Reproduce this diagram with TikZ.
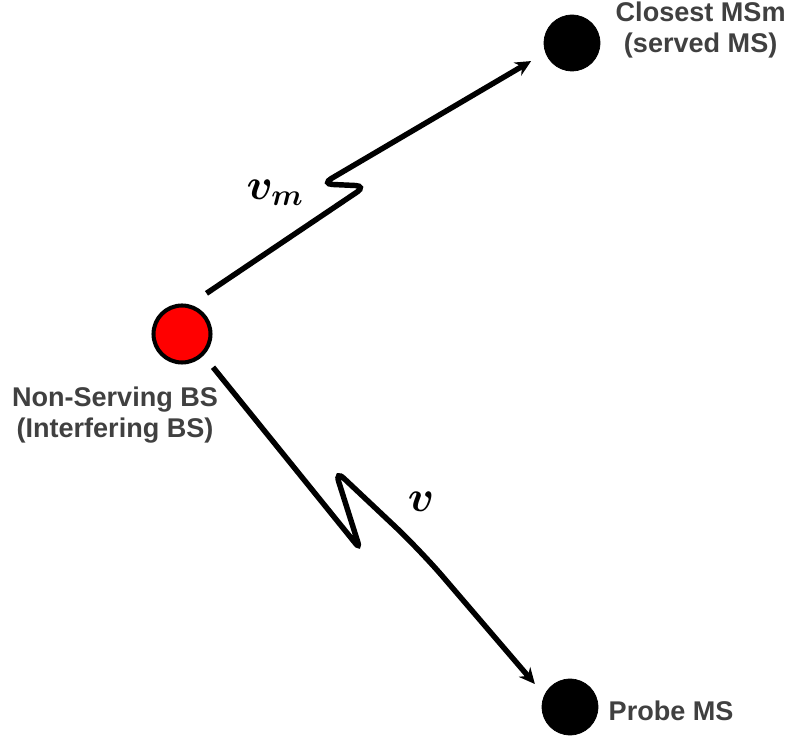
\documentclass[tikz,border=0pt]{standalone}
\usepackage{bm}
\usepackage{fontspec}
\newfontfamily\labelfont{Liberation Sans}
\usetikzlibrary{positioning,arrows.meta}
\definecolor{labelgray}{RGB}{64,64,64}

\begin{document}
\begin{tikzpicture}[
    station/.style={circle,draw=black,minimum size=1.12cm,inner sep=0pt},
    tag/.style={font=\labelfont\bfseries\fontsize{15.4}{17.6}\selectfont,text=labelgray,align=center,inner sep=0pt},
    link/.style={line width=3.1pt,rounded corners=6pt,-{Stealth[length=9pt,width=8.5pt]}},
    sym/.style={inner sep=0pt}]

    \useasboundingbox (0,0) rectangle (15.84,14.8);

    % stations
    \node[station,fill=red,line width=2.3pt,minimum size=1.14cm] (bs) at (3.64,8.12) {};
    \node[station,fill=black] (cms) at (11.44,13.94) {};
    \node[station,fill=black] (pms) at (11.40,0.66) {};

    % labels
    \node[tag,below=0.45cm of bs,xshift=-1.34cm] (bstag) {Non-Serving BS\\(Interfering BS)};
    \node[tag,right=0.3cm of cms,yshift=0.26cm] (cmstag) {Closest MSm\\(served MS)};
    \node[tag,right=0.2cm of pms,yshift=-0.08cm] (pmstag) {Probe MS};

    % kinks of the two links
    \coordinate (up1) at (7.32,11.08);
    \coordinate (up2) at (6.44,11.12);
    \coordinate (lo1) at (7.20,3.82);
    \coordinate (lo2) at (6.70,5.40);
    \coordinate (lo3) at (8.40,3.80);

    % links
    \draw[link,shorten <=0.4cm,shorten >=0.33cm] (bs.75) -- (up1) -- (up2) -- (cms.200);
    \draw[link,shorten <=0.3cm,shorten >=0.29cm] (bs.-45) [rounded corners=4pt] -- (lo1)
        [rounded corners=7pt] -- (lo2) [rounded corners=20pt] -- (lo3) -- (pms.155);

    % channel symbols
    \node[sym] (vm) at (5.50,10.94) {\fontsize{23}{27}\selectfont $\bm{v}_{\bm{m}}$};
    \node[sym] (vsym) at (8.42,4.76) {\fontsize{26}{30}\selectfont $\bm{v}$};

\end{tikzpicture}
\end{document}
